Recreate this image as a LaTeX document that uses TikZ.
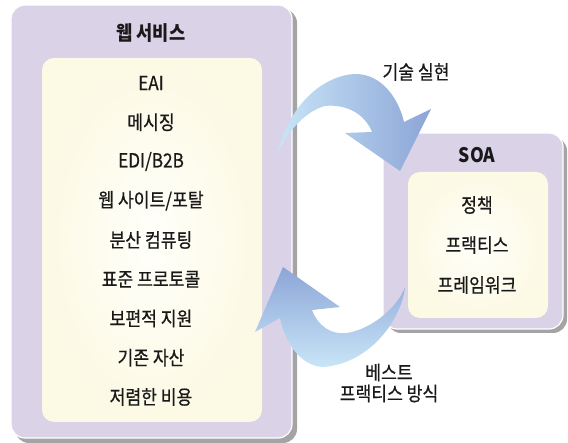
\documentclass[tikz,border=0pt]{standalone}
\usepackage{fontspec}
\setmainfont{Noto Sans CJK KR}[FakeStretch=0.88]
\newfontfamily\itemfont{Noto Sans CJK KR}[FakeStretch=0.88, FakeBold=0.6]
\usepackage{xcolor}
\definecolor{boxpurple}{HTML}{DAD2E6}
\definecolor{creamin}{HTML}{FFFFFA}
\definecolor{creamout}{HTML}{FCF9E4}
\definecolor{shadowgray}{HTML}{A4A4A4}
\definecolor{arrowlight}{HTML}{C8E5F7}
\definecolor{arrowdark}{HTML}{8CA5D7}
\tikzset{
	outerbox/.style={fill=boxpurple, draw=white, line width=1.2pt, rounded corners=14pt},
	shadowbox/.style={fill=shadowgray, rounded corners=14pt},
	innerbox/.style={inner color=creamin, outer color=creamout, rounded corners=12pt},
	title/.style={font=\fontsize{20}{22}\selectfont\bfseries, text=black!90},
	item/.style={font=\itemfont\fontsize{19.5}{21}\selectfont, text=black!90},
	label/.style={font=\itemfont\fontsize{19.5}{22}\selectfont, text=black!90, align=center}
}

\begin{document}
\begin{tikzpicture}[x=1pt, y=-1pt]
	\useasboundingbox (0,0) rectangle (568,443);

	% web services box
	\fill[shadowbox] (15,9) rectangle (297,443);
	\draw[outerbox] (11,5) rectangle (292,438);
	\shade[innerbox] (42,58) rectangle (262,422);
	\node[title] (ws) at (151,33) {웹 서비스};
	\foreach \txt [count=\i from 0] in {EAI, 메시징, EDI/B2B, 웹 사이트/포탈, 분산 컴퓨팅,
			표준 프로토콜, 보편적 지원, 기존 자산, 저렴한 비용}
		\node[item] (ws-\i) at (151,{83+39.25*\i}) {\txt};

	% SOA box
	\fill[shadowbox] (387,137) rectangle (567,333);
	\draw[outerbox] (383,133) rectangle (563,329);
	\shade[innerbox] (408,172) rectangle (548,318);
	\node[title] (soa) at (477,155) {SOA};
	\node[item] (soa-0) at (477,205) {정책};
	\node[item] (soa-1) at (477,245) {프랙티스};
	\node[item] (soa-2) at (477,285) {프레임워크};

	% arrows
	\shade[left color=arrowlight, right color=arrowdark]
		(278,152) .. controls (290,102) and (326,74) .. (357,74)
		.. controls (383,75) and (399,100) .. (404,122)
		-- (431,109) -- (400,171) -- (345,133) -- (372,132)
		.. controls (364,112) and (344,104) .. (325,106)
		.. controls (303,112) and (287,134) .. (278,152) -- cycle;
	\shade[top color=arrowdark, bottom color=arrowlight]
		(405,287) .. controls (401,322) and (368,364) .. (323,367)
		.. controls (300,366) and (285,342) .. (280,318)
		-- (255,332) -- (283,267) -- (340,307) -- (312,310)
		.. controls (318,326) and (331,335) .. (347,333)
		.. controls (372,329) and (398,307) .. (405,287) -- cycle;

	\node[label] (impl) at (416,72) {기술 실현};
	\node[label] (best) at (389,383) {베스트\\[-1pt]프랙티스 방식};
\end{tikzpicture}
\end{document}
